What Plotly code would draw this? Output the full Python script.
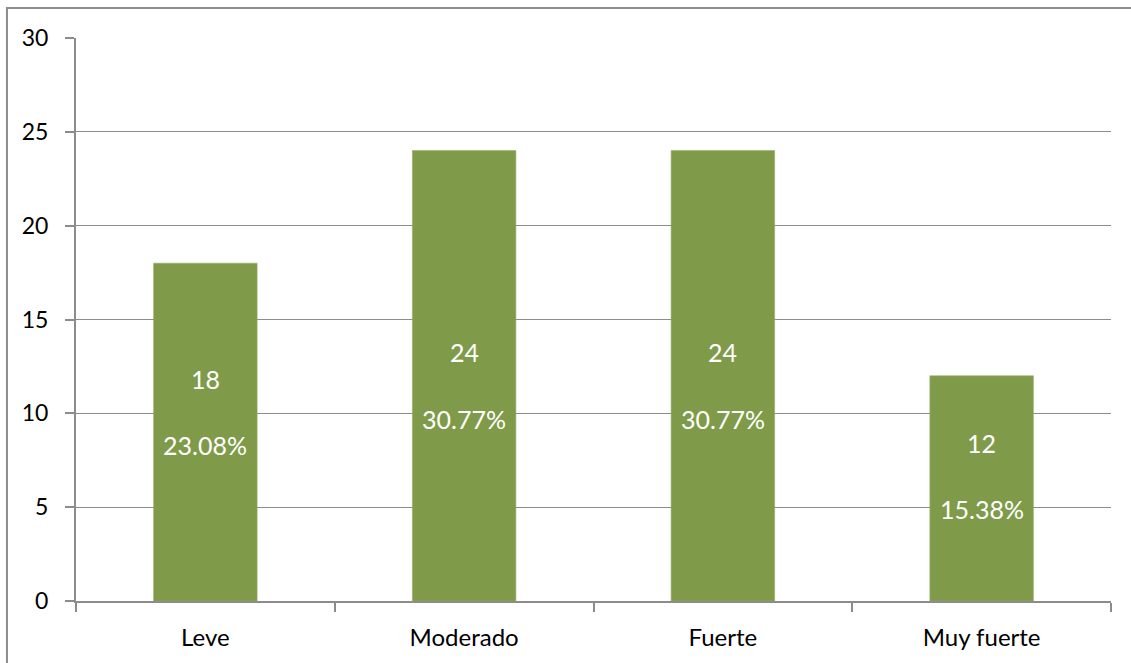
import plotly.graph_objects as go

# Categories and counts
categories = ["Leve", "Moderado", "Fuerte", "Muy fuerte"]
counts = [18, 24, 24, 12]

# Vertical placement of the in-bar labels (axis units)
count_label_y = [11.84, 13.27, 13.27, 8.44]
pct_label_gap = 3.55

total = sum(counts)
percents = [c / total * 100 for c in counts]

FONT = "Lato, 'Open Sans', sans-serif"
GRID = "#8c8c8c"
BAR = "#7f9b4a"

fig = go.Figure()
fig.add_trace(go.Bar(
    x=categories,
    y=counts,
    width=0.4,
    marker=dict(color=BAR, line=dict(color="#93ad63", width=0.6)),
    hoverinfo="skip",
))

annotations = []
for cat, c, p, ly in zip(categories, counts, percents, count_label_y):
    annotations.append(dict(x=cat, y=ly, xref="x", yref="y", text=str(c),
                            showarrow=False, font=dict(color="white", size=25, family=FONT)))
    annotations.append(dict(x=cat, y=ly - pct_label_gap, xref="x", yref="y",
                            text=f"{p:.2f}%", showarrow=False,
                            font=dict(color="white", size=25, family=FONT)))

fig.update_layout(
    width=1131,
    height=663,
    margin=dict(l=76, r=20, t=38, b=60),
    paper_bgcolor="white",
    plot_bgcolor="white",
    showlegend=False,
    bargap=0.6,
    font=dict(family=FONT, size=22, color="black"),
    annotations=annotations,
    shapes=[dict(type="rect", xref="paper", yref="paper",
                 x0=-0.0667, x1=1.2, y0=-0.3, y1=1.0531,
                 line=dict(color="#8c8c8c", width=2), layer="below")],
    xaxis=dict(
        showline=True, linecolor=GRID, linewidth=2,
        ticks="outside", tickson="boundaries", ticklen=9, tickcolor=GRID, tickwidth=2,
        showgrid=False, ticklabelstandoff=14,
        tickfont=dict(size=24, family=FONT, color="black"),
    ),
    yaxis=dict(
        range=[0, 30], dtick=5,
        showline=True, linecolor=GRID, linewidth=2,
        ticks="outside", ticklen=9, tickcolor=GRID, tickwidth=2,
        showgrid=True, gridcolor=GRID, gridwidth=1.3,
        zeroline=False, ticklabelstandoff=12,
        tickfont=dict(size=23, family=FONT, color="black"),
    ),
)

fig.write_html("out.html")
